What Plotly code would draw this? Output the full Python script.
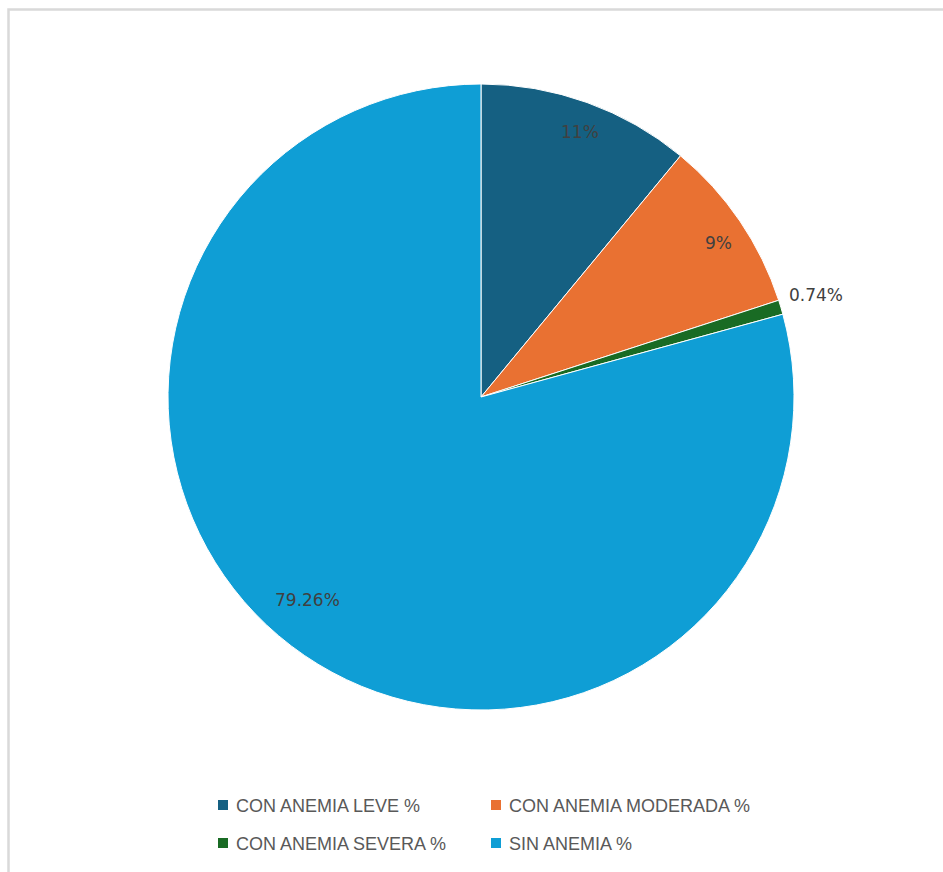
import math
import plotly.graph_objects as go

labels = ["CON ANEMIA LEVE %", "CON ANEMIA MODERADA %", "CON ANEMIA SEVERA %", "SIN ANEMIA %"]
values = [11, 9, 0.74, 79.26]
label_texts = ["11%", "9%", "0.74%", "79.26%"]
colors = ["#156082", "#E97132", "#196B24", "#0F9ED5"]

W, H = 943, 872
CX, CY, R = 481, 397, 313
label_radius = [0.905, 0.905, 1.12, 0.853]
label_angle_shift = [0.6, 1.2, -0.3, 3.3]  # degrees

fig = go.Figure(go.Pie(
    labels=labels,
    values=values,
    sort=False,
    direction="clockwise",
    rotation=0,
    marker=dict(colors=colors, line=dict(color="white", width=1)),
    textinfo="none",
    hoverinfo="label+percent",
    showlegend=False,
    domain=dict(x=[(CX - R) / W, (CX + R) / W], y=[1 - (CY + R) / H, 1 - (CY - R) / H]),
))

annotations = []
total = sum(values)
cum = 0.0
for i, v in enumerate(values):
    mid = (cum + v / 2) / total * 2 * math.pi + math.radians(label_angle_shift[i])
    cum += v
    r = R * label_radius[i]
    px = CX + r * math.sin(mid)
    py = CY - r * math.cos(mid)
    annotations.append(dict(
        x=px / W, y=1 - py / H, xref="paper", yref="paper",
        text=label_texts[i], showarrow=False,
        font=dict(family="DejaVu Sans", size=17, color="#404040"),
        xanchor="center", yanchor="middle",
    ))

# chart border (only top/left visible in frame)
shapes = [dict(type="rect", xref="paper", yref="paper",
               x0=8.5 / W, x1=1.05, y0=-0.05, y1=1 - 9.5 / H,
               line=dict(color="#D9D9D9", width=2.5), fillcolor="rgba(0,0,0,0)", layer="below")]

# legend (2 x 2 grid)
col_x = [218, 491]
row_y = [805, 843]
for i, lab in enumerate(labels):
    sx = col_x[i % 2]
    sy = row_y[i // 2]
    shapes.append(dict(type="rect", xref="paper", yref="paper",
                       x0=sx / W, x1=(sx + 10) / W, y0=1 - (sy + 5) / H, y1=1 - (sy - 5) / H,
                       fillcolor=colors[i], line=dict(width=0)))
    annotations.append(dict(
        x=(sx + 16) / W, y=1 - (sy + 1) / H, xref="paper", yref="paper",
        text=lab, showarrow=False, xanchor="left", yanchor="middle",
        font=dict(family="Liberation Sans, Arial", size=18, color="#595959"),
    ))

fig.update_layout(
    width=W, height=H,
    margin=dict(l=0, r=0, t=0, b=0),
    paper_bgcolor="white",
    plot_bgcolor="white",
    annotations=annotations,
    shapes=shapes,
)

fig.write_html("out.html")
